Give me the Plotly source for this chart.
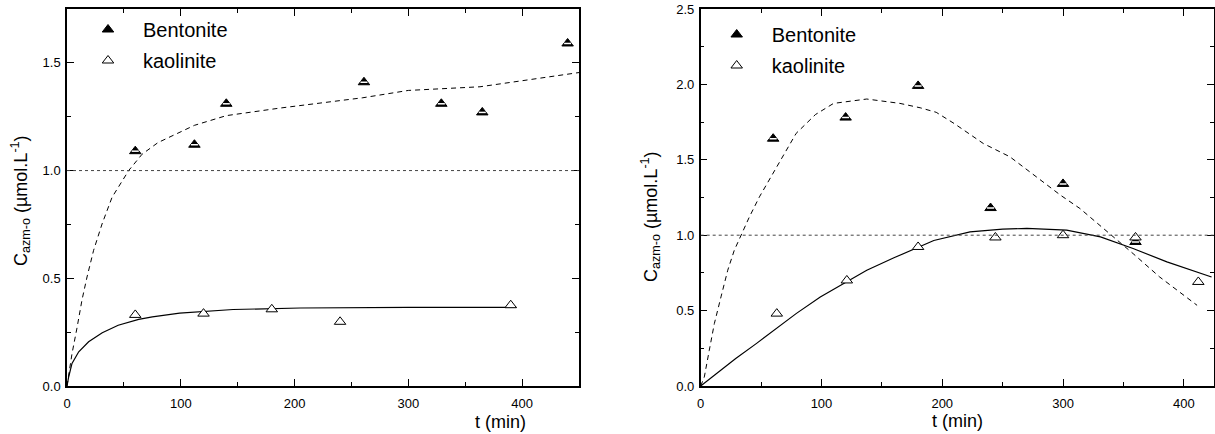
import plotly.graph_objects as go

# ---------------- data ----------------
# Left panel
bent_t_L = [60, 112, 140, 261, 329, 365, 440]
bent_c_L = [1.09, 1.12, 1.31, 1.41, 1.31, 1.27, 1.59]
kaol_t_L = [60, 120, 180, 240, 390]
kaol_c_L = [0.33, 0.336, 0.356, 0.298, 0.375]

fitB_t_L = [0, 1.5, 4.4, 8.8, 13.2, 17.6, 23.4, 30.8, 39.6, 54.2, 66, 80, 112, 140, 187, 260, 300, 363, 407, 450]
fitB_c_L = [0, 0.05, 0.15, 0.27, 0.40, 0.506, 0.63, 0.752, 0.876, 1.0, 1.076, 1.13, 1.21, 1.255, 1.29, 1.338, 1.372, 1.389, 1.423, 1.455]
fitK_t_L = [0, 0.5, 1.5, 4.4, 10.3, 19, 31, 45, 63, 75, 99, 146, 205, 300, 395]
fitK_c_L = [0, 0.02, 0.043, 0.105, 0.159, 0.205, 0.247, 0.282, 0.309, 0.321, 0.338, 0.355, 0.362, 0.365, 0.365]

# Right panel
bent_t_R = [60, 120, 180, 240, 300, 360]
bent_c_R = [1.64, 1.78, 1.99, 1.18, 1.34, 0.955]
kaol_t_R = [63, 121, 180, 244, 300, 360, 412]
kaol_c_R = [0.48, 0.70, 0.922, 0.985, 1.0, 0.985, 0.69]

fitB_t_R = [0, 3, 7.1, 11.3, 16.8, 22.4, 27.8, 33.4, 40.3, 48.6, 58.3, 67.9, 79, 95, 110, 137.5, 165, 181.7, 195, 210, 234, 256, 281, 298, 314, 342, 358, 380, 411]
fitB_c_R = [0, 0.06, 0.237, 0.414, 0.591, 0.768, 0.90, 1.0, 1.121, 1.254, 1.387, 1.52, 1.675, 1.80, 1.874, 1.903, 1.874, 1.845, 1.815, 1.74, 1.608, 1.52, 1.365, 1.265, 1.177, 0.989, 0.878, 0.723, 0.535]
fitK_t_R = [0, 13, 29, 46, 62, 79, 99, 120, 137.5, 160, 176, 193, 223, 250, 270, 303, 331, 358, 386, 423]
fitK_c_R = [0, 0.082, 0.182, 0.281, 0.38, 0.48, 0.59, 0.69, 0.768, 0.85, 0.905, 0.965, 1.022, 1.04, 1.045, 1.033, 0.989, 0.912, 0.823, 0.723]

ref_level = 1.0
series_names = ["Bentonite", "kaolinite"]
x_title = "t (min)"
y_title = "C<sub>azm-o</sub> (µmol.L<sup>-1</sup>)"

# ---------------- figure ----------------
FONT = "Arial, Liberation Sans, sans-serif"
W, H = 1215, 434

def px(x):
    return x / W

def py(y):
    return 1 - y / H

fig = go.Figure()

def add_panel(xa, ya, legend, bt, bc, kt, kc, fbt, fbc, fkt, fkc):
    fig.add_trace(go.Scatter(x=fbt, y=fbc, mode="lines", xaxis=xa, yaxis=ya, showlegend=False,
                             line=dict(color="black", width=1, dash="5px,4px"), hoverinfo="skip"))
    fig.add_trace(go.Scatter(x=fkt, y=fkc, mode="lines", xaxis=xa, yaxis=ya, showlegend=False,
                             line=dict(color="black", width=1.2), hoverinfo="skip"))
    fig.add_trace(go.Scatter(x=bt, y=bc, mode="markers", xaxis=xa, yaxis=ya, name=series_names[0],
                             legend=legend, legendgroup=legend + "b",
                             marker=dict(symbol="triangle-up", size=10, color="black",
                                         line=dict(color="black", width=1))))
    fig.add_trace(go.Scatter(x=bt, y=bc, mode="markers", xaxis=xa, yaxis=ya, showlegend=False,
                             legendgroup=legend + "b",
                             marker=dict(symbol="line-ew", size=5, color="white",
                                         line=dict(color="white", width=1.5))))
    fig.add_trace(go.Scatter(x=kt, y=kc, mode="markers", xaxis=xa, yaxis=ya, name=series_names[1],
                             legend=legend, legendgroup=legend + "k",
                             marker=dict(symbol="triangle-up", size=10, color="white",
                                         line=dict(color="black", width=1))))

add_panel("x", "y", "legend", bent_t_L, bent_c_L, kaol_t_L, kaol_c_L, fitB_t_L, fitB_c_L, fitK_t_L, fitK_c_L)
add_panel("x2", "y2", "legend2", bent_t_R, bent_c_R, kaol_t_R, kaol_c_R, fitB_t_R, fitB_c_R, fitK_t_R, fitK_c_R)

ydom = [py(386), py(9)]

def xaxis(dom, rng, anchor):
    return dict(domain=dom, range=rng, anchor=anchor, dtick=100, tick0=0,
                showline=True, linecolor="black", linewidth=1.5, mirror="ticks",
                ticks="inside", ticklen=7, tickwidth=1.2, tickcolor="black",
                minor=dict(ticks="inside", ticklen=4, dtick=50, tickwidth=1, tickcolor="black"),
                showgrid=False, zeroline=False, ticklabelstandoff=5, automargin=False,
                tickfont=dict(family=FONT, size=13, color="black"))

def yaxis(rng, anchor):
    return dict(domain=ydom, range=rng, anchor=anchor, dtick=0.5, tick0=0, tickformat=".1f",
                showline=True, linecolor="black", linewidth=1.5, mirror="ticks",
                ticks="inside", ticklen=7, tickwidth=1.2, tickcolor="black",
                minor=dict(ticks="inside", ticklen=4, dtick=0.25, tickwidth=1, tickcolor="black"),
                showgrid=False, zeroline=False, ticklabelstandoff=2, automargin=False,
                tickfont=dict(family=FONT, size=13, color="black"))

leg_common = dict(xanchor="left", yanchor="top", bgcolor="rgba(0,0,0,0)",
                  font=dict(family=FONT, size=20, color="black"),
                  traceorder="grouped", tracegroupgap=2, itemwidth=60)

ann_font = dict(family=FONT, size=18, color="black")

fig.update_layout(
    width=W, height=H, margin=dict(l=0, r=0, t=0, b=0, pad=0, autoexpand=False),
    paper_bgcolor="white", plot_bgcolor="white",
    font=dict(family=FONT, color="black"),
    xaxis=xaxis([px(67), px(579)], [0, 450], "y"),
    yaxis=yaxis([0, 1.75], "x"),
    xaxis2=xaxis([px(700.7), px(1214)], [0, 425], "y2"),
    yaxis2=yaxis([0, 2.5], "x2"),
    legend=dict(x=px(73), y=py(10), **leg_common),
    legend2=dict(x=px(701.7), y=py(15), **leg_common),
    shapes=[
        dict(type="line", xref="x domain", yref="y", x0=0, x1=1, y0=ref_level, y1=ref_level,
             line=dict(color="#444", width=1, dash="dot")),
        dict(type="line", xref="x2 domain", yref="y2", x0=0, x1=1, y0=ref_level, y1=ref_level,
             line=dict(color="#444", width=1, dash="dot")),
    ],
    annotations=[
        dict(text=y_title, xref="paper", yref="paper", x=px(21), y=py(201), textangle=-90,
             xanchor="center", yanchor="middle", showarrow=False, font=ann_font),
        dict(text=y_title, xref="paper", yref="paper", x=px(650), y=py(217), textangle=-90,
             xanchor="center", yanchor="middle", showarrow=False, font=ann_font),
        dict(text=x_title, xref="paper", yref="paper", x=px(500), y=py(422),
             xanchor="center", yanchor="middle", showarrow=False, font=ann_font),
        dict(text=x_title, xref="paper", yref="paper", x=px(957), y=py(421),
             xanchor="center", yanchor="middle", showarrow=False, font=ann_font),
    ],
)

fig.write_html("out.html", config={"displayModeBar": False},
               post_script="document.body.style.margin='0';document.body.style.overflow='hidden';")
